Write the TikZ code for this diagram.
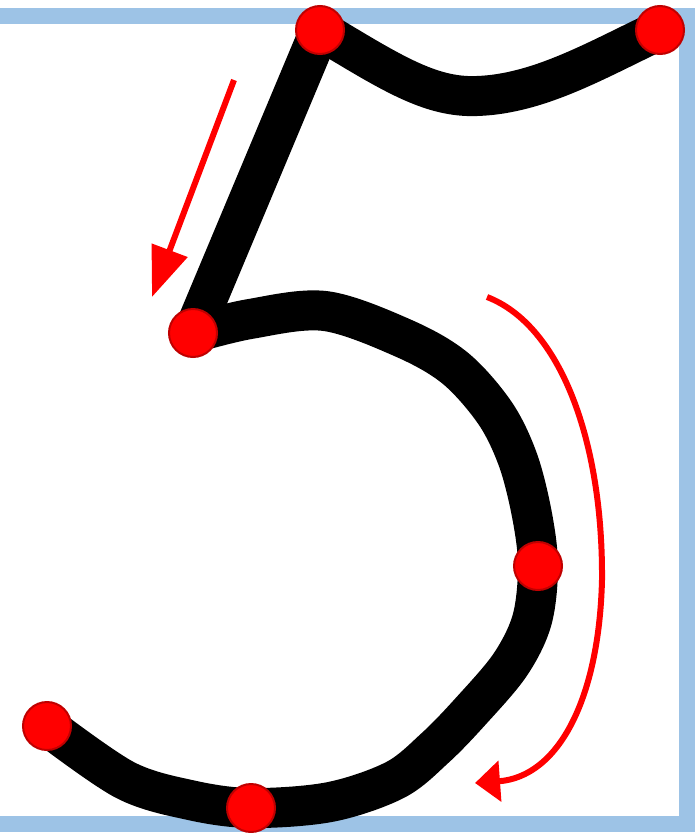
\documentclass[tikz,border=0pt]{standalone}
\usetikzlibrary{arrows.meta}
\definecolor{framebl}{HTML}{9DC3E6}
\definecolor{dotedge}{HTML}{C00000}
\tikzset{
  stroke/.style={line width=40pt, line cap=round, line join=round, black},
  dotnode/.style={circle, fill=red, draw=dotedge, line width=2pt, minimum size=48pt, inner sep=0pt},
  dirarrow/.style={red, line width=6pt},
}
\begin{document}
\begin{tikzpicture}[x=1pt,y=-1pt]
\useasboundingbox (0,0) rectangle (698,833);
\draw[framebl, line width=16pt] (-40,16) -- (687,16) -- (687,824) -- (-40,824);
% key points
\coordinate (a) at (320,30);
\coordinate (b) at (660,30);
\coordinate (c) at (193,333);
\coordinate (d) at (538,566);
\coordinate (e) at (47,726);
\coordinate (f) at (251,808);
% black strokes
\draw[stroke] (a) .. controls (390,72) and (430,98) .. (477,96) .. controls (540,94) and (600,58) .. (b);
\draw[stroke] (a) -- (c);
\draw[stroke] plot[smooth, tension=0.55] coordinates {(193,333) (250,319) (325,311) (403,338) (455,368) (495,413) (518,460) (532,515) (d) (532,620) (510,665) (470,712) (435,748) (395,780) (330,802) (f) (190,800) (125,780) (e)};
% dots
\foreach \p in {a,b,c,d,e,f} \node[dotnode] (n\p) at (\p) {};
% direction arrows
\coordinate (s1) at (234,80);
\coordinate (t1) at (152,297);
\draw[dirarrow, -{Triangle[length=50pt,width=37pt]}] (s1) -- (t1);
\coordinate (s2) at (487,297);
\coordinate (t2) at (475,783);
\draw[dirarrow, -{Triangle[length=25pt,width=40pt]}] (s2) .. controls (560,325) and (603,440) .. (602,580) .. controls (599,700) and (558,777) .. (t2);
\end{tikzpicture}
\end{document}
